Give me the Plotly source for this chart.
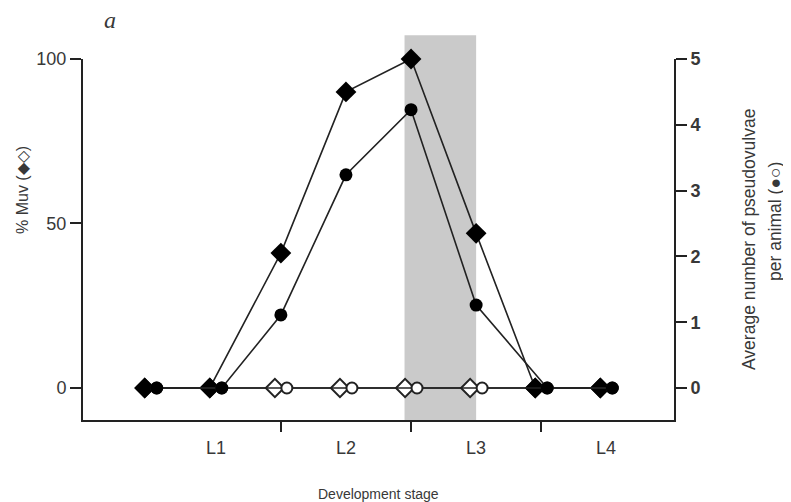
import plotly.graph_objects as go

# ---- data ----
stage_labels = ["L1", "L2", "L3", "L4"]
stage_label_pos = [0.5, 1.5, 2.5, 3.5]
stage_boundaries = [1, 2, 3]
sample_times = [0.0, 0.5, 1.0, 1.5, 2.0, 2.5, 3.0, 3.5]
muv_pct = [0, 0, 41, 90, 100, 47, 0, 0]                     # filled diamonds
pseudovulvae = [0, 0, 1.11, 3.24, 4.23, 1.26, 0, 0]          # filled circles
muv_pct_ctrl = [0, 0, 0, 0, 0, 0, 0, 0]                      # open diamonds
pseudovulvae_ctrl = [0, 0, 0, 0, 0, 0, 0, 0]                 # open circles
shaded_window = [1.95, 2.5]

# ---- style ----
DARK = "#222222"
TEXT = "#383838"
FONT = "Liberation Sans"
ZERO_SHIFT = 0.046  # separate overlapping symbols at zero
OFF = 8  # page body margin
FIG_W, FIG_H = 791 - OFF, 502 - OFF


def shifted(xs, ys, sign):
    return [x + sign * ZERO_SHIFT if y == 0 else x for x, y in zip(xs, ys)]


fig = go.Figure()

fig.add_trace(go.Scatter(
    x=shifted(sample_times, muv_pct_ctrl, -1), y=muv_pct_ctrl, mode="lines+markers",
    line=dict(color=DARK, width=1.6),
    marker=dict(symbol="diamond", size=14, color="white", line=dict(color=DARK, width=2)),
    showlegend=False, cliponaxis=False))
fig.add_trace(go.Scatter(
    x=shifted(sample_times, pseudovulvae_ctrl, 1), y=pseudovulvae_ctrl, yaxis="y2",
    mode="lines+markers", line=dict(color=DARK, width=1.6),
    marker=dict(symbol="circle", size=11, color="white", line=dict(color=DARK, width=2)),
    showlegend=False, cliponaxis=False))
fig.add_trace(go.Scatter(
    x=shifted(sample_times, muv_pct, -1), y=muv_pct, mode="lines+markers",
    line=dict(color=DARK, width=1.6),
    marker=dict(symbol="diamond", size=16, color="black", line=dict(color="black", width=0)),
    showlegend=False, cliponaxis=False))
fig.add_trace(go.Scatter(
    x=shifted(sample_times, pseudovulvae, 1), y=pseudovulvae, yaxis="y2",
    mode="lines+markers", line=dict(color=DARK, width=1.6),
    marker=dict(symbol="circle", size=13, color="black", line=dict(color="black", width=0)),
    showlegend=False, cliponaxis=False))

fig.add_shape(type="rect", xref="x", yref="paper",
              x0=shaded_window[0], x1=shaded_window[1], y0=0, y1=1.066,
              fillcolor="#cacaca", line=dict(width=0), layer="below")

annotations = []
for lab, pos in zip(stage_labels, stage_label_pos):
    annotations.append(dict(x=pos, y=0, xref="x", yref="paper", text=lab, showarrow=False,
                            xanchor="center", yanchor="top", yshift=-16,
                            font=dict(family=FONT, size=18, color=TEXT)))

W, L, T, H = 591, 83 - OFF, 59 - OFF, 361


def px(xp):
    return (xp - OFF - L) / W


def py(yp):
    return (T + H - (yp - OFF)) / H


def label(x, y, text, size, angle=0, family=FONT):
    return dict(x=px(x), y=py(y), xref="paper", yref="paper", text=text, textangle=angle,
                xanchor="center", yanchor="middle", showarrow=False,
                font=dict(family=family, size=size, color=TEXT))


annotations += [
    label(378, 494, "Development stage", 14),
    label(22, 190, "% Muv (◆◇)", 16, -90),
    label(749, 240, "Average number of pseudovulvae", 17.5, -90),
    label(775, 222, "per animal (●○)", 17.5, -90),
    label(110, 20, "<i>a</i>", 24, 0, "Liberation Serif"),
]

fig.update_layout(
    width=FIG_W, height=FIG_H,
    margin=dict(l=L, r=FIG_W - L - W, t=T, b=FIG_H - T - H),
    paper_bgcolor="white", plot_bgcolor="white",
    showlegend=False,
    xaxis=dict(range=[-0.52, 4.02], tickvals=stage_boundaries, ticktext=["", "", ""],
               ticks="outside", ticklen=10, tickwidth=2, tickcolor=DARK,
               showline=True, linecolor=DARK, linewidth=2, showgrid=False, zeroline=False),
    yaxis=dict(range=[-9.73, 100], tickvals=[0, 50, 100], ticks="outside", ticklen=11,
               tickwidth=2, tickcolor=DARK, showline=True, linecolor=DARK, linewidth=2,
               showgrid=False, zeroline=False,
               tickfont=dict(family=FONT, size=18, color=TEXT)),
    yaxis2=dict(range=[-0.4865, 5], tickvals=[0, 1, 2, 3, 4, 5], overlaying="y", side="right",
                ticks="outside", ticklen=11, tickwidth=2, tickcolor=DARK,
                showline=True, linecolor=DARK, linewidth=2, showgrid=False, zeroline=False,
                tickfont=dict(family=FONT, size=18, color=TEXT, weight="bold")),
    annotations=annotations,
)

fig.write_html("out.html")
